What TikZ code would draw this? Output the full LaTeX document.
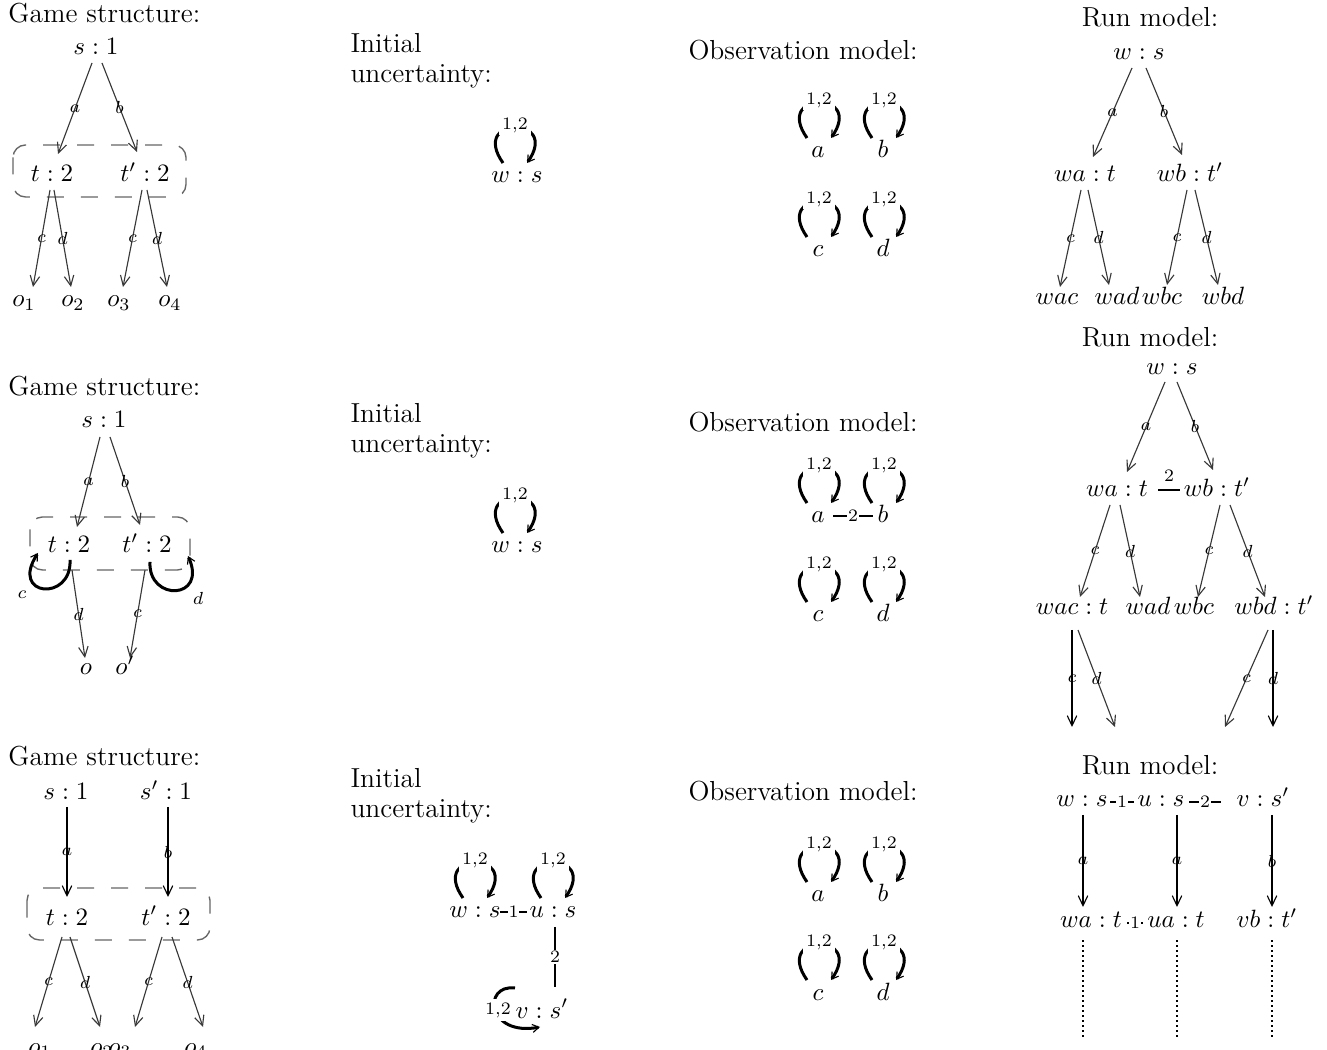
\documentclass[tikz,border=0pt]{standalone}
\usetikzlibrary{arrows.meta,calc}
\newcommand\obsloop[3]{%
  \draw[loopline] ($(#1.base)+(#2-12,-20)$) .. controls ($(#1.base)+(#2-46,-68)$) and ($(#1.base)+(#2+46,-68)$) .. ($(#1.base)+(#2+12,-20)$);
  \node[looplab] (#3) at ($(#1.base)+(#2,-58)$) {1,2};}
\begin{document}
\begin{tikzpicture}[x=0.4pt,y=-0.4pt,
  mn/.style={anchor=base,inner sep=0pt},
  ttl/.style={anchor=base west,inner sep=0pt,font=\fontsize{11}{13}\selectfont},
  ttlc/.style={anchor=base,inner sep=0pt,font=\fontsize{11}{13}\selectfont},
  arr/.style={draw=black!78,line width=0.45pt,-{Straight Barb[length=4pt,width=3.8pt,line width=0.45pt]}},
  varr/.style={arr,draw=black,line width=0.8pt},
  elab/.style={font=\scriptsize,inner sep=0.5pt},
  wlab/.style={font=\scriptsize,inner sep=0.4pt,fill=white},
  eqline/.style={draw=black,line width=0.9pt},
  loopline/.style={draw=black,line width=1.2pt,-{Straight Barb[length=2.6pt,width=3.2pt,line width=0.45pt]}},
  looplab/.style={font=\scriptsize,inner sep=1.2pt,fill=white},
  gbox/.style={draw=black!60,line width=0.55pt,dash pattern=on 6.8pt off 6.8pt,rounded corners=5pt},
  dotl/.style={draw=black,line width=0.9pt,dash pattern=on 0.9pt off 1.1pt},
]
\useasboundingbox (0,0) rectangle (1327,1050);
\fill[white] (0,0) rectangle (1327,1050);
\clip (0,0) rectangle (1327,1050);

% ---------------- Game structure 1
\node[ttl] (g1t) at (8,23) {Game structure:};
\node[mn] (s1) at (96,55) {$s:1$};
\node[mn] (t1) at (52,182) {$t:2$};
\node[mn] (tp1) at (145,182) {$t':2$};
\node[mn] (o1) at (24,307) {$o_1$};
\node[mn] (o2) at (73,307) {$o_2$};
\node[mn] (o3) at (119,307) {$o_3$};
\node[mn] (o4) at (170,307) {$o_4$};
\draw[gbox] (13,145) rectangle (186,197);
\draw[arr] ($(s1.base)+(-4,8)$) -- node[elab] (g1a) {$a$} ($(t1.base)+(6,-28)$);
\draw[arr] ($(s1.base)+(6,8)$) -- node[elab] (g1b) {$b$} ($(tp1.base)+(-8,-30)$);
\draw[arr] ($(t1.base)+(-2,8)$) -- node[elab] (g1c) {$c$} ($(o1.base)+(9,-20)$);
\draw[arr] ($(t1.base)+(2,8)$) -- node[elab] (g1d) {$d$} ($(o2.base)+(-2,-20)$);
\draw[arr] ($(tp1.base)+(-3,8)$) -- node[elab] (g1c2) {$c$} ($(o3.base)+(4,-20)$);
\draw[arr] ($(tp1.base)+(2,8)$) -- node[elab] (g1d2) {$d$} ($(o4.base)+(-3,-20)$);

% ---------------- Game structure 2
\node[ttl] (g2t) at (8,396) {Game structure:};
\node[mn] (s2) at (104,428) {$s:1$};
\node[mn] (t2) at (69,553) {$t:2$};
\node[mn] (tp2) at (147,553) {$t':2$};
\node[mn] (oo) at (86,675) {$o$};
\node[mn] (oop) at (125,675) {$o'$};
\draw[gbox] (30,517) rectangle (190,570);
\draw[arr] ($(s2.base)+(-4,9)$) -- node[elab] (g2a) {$a$} ($(t2.base)+(8,-26)$);
\draw[arr] ($(s2.base)+(6,9)$) -- node[elab] (g2b) {$b$} ($(tp2.base)+(-7,-28)$);
\draw[arr] ($(t2.base)+(3,17)$) -- node[elab] (g2d) {$d$} ($(oo.base)+(-1,-17)$);
\draw[arr] ($(tp2.base)+(-2,17)$) -- node[elab] (g2c) {$c$} ($(oop.base)+(5,-17)$);
\draw[loopline] ($(t2.base)+(1,7)$) .. controls ($(t2.base)+(3,49)$) and ($(t2.base)+(-60,44)$) .. ($(t2.base)+(-31,0)$);
\node[elab] (g2lc) at ($(t2.base)+(-47,42)$) {$c$};
\draw[loopline] ($(tp2.base)+(3,9)$) .. controls ($(tp2.base)+(1,49)$) and ($(tp2.base)+(61,47)$) .. ($(tp2.base)+(41,3)$);
\node[elab] (g2ld) at ($(tp2.base)+(51,45)$) {$d$};

% ---------------- Game structure 3
\node[ttl] (g3t) at (8,766) {Game structure:};
\node[mn] (s3) at (66,800) {$s:1$};
\node[mn] (sp3) at (166,800) {$s':1$};
\node[mn] (t3) at (67,925) {$t:2$};
\node[mn] (tp3) at (166,925) {$t':2$};
\node[mn] (q1) at (40,1054) {$o_1$};
\node[mn] (q2) at (102,1054) {$o_2$};
\node[mn] (q3) at (120,1054) {$o_3$};
\node[mn] (q4) at (196,1054) {$o_4$};
\draw[gbox] (27,888) rectangle (210,940);
\draw[varr] ($(s3.base)+(1,7)$) -- node[elab] (g3a) {$a$} ($(t3.base)+(0,-28)$);
\draw[varr] ($(sp3.base)+(2,7)$) -- node[elab] (g3b) {$b$} ($(tp3.base)+(2,-28)$);
\draw[arr] ($(t3.base)+(-5,12)$) -- node[elab] (g3c) {$c$} ($(q1.base)+(-5,-27)$);
\draw[arr] ($(t3.base)+(3,12)$) -- node[elab] (g3d) {$d$} ($(q2.base)+(-2,-27)$);
\draw[arr] ($(tp3.base)+(-4,12)$) -- node[elab] (g3c2) {$c$} ($(q3.base)+(15,-27)$);
\draw[arr] ($(tp3.base)+(6,12)$) -- node[elab] (g3d2) {$d$} ($(q4.base)+(7,-27)$);

% ---------------- Initial uncertainty
\node[ttl] (i1a) at (350,53) {Initial};
\node[ttl] (i1b) at (350,83) {uncertainty:};
\node[mn] (i1w) at (517,183) {$w:s$};
\obsloop{i1w}{-2}{i1l}

\node[ttl] (i2a) at (350,423) {Initial};
\node[ttl] (i2b) at (350,453) {uncertainty:};
\node[mn] (i2w) at (517,553) {$w:s$};
\obsloop{i2w}{-2}{i2l}

\node[ttl] (i3a) at (350,788) {Initial};
\node[ttl] (i3b) at (350,818) {uncertainty:};
\node[mn] (i3w) at (475,918) {$w:s$};
\node[mn] (i3u) at (553,918) {$u:s$};
\node[mn] (i3v) at (542,1018) {$v:s'$};
\obsloop{i3w}{0}{i3wl}
\obsloop{i3u}{0}{i3ul}
\draw[eqline] ($(i3w.base)+(25,-6)$) -- node[wlab] (i3e1) {1} ($(i3u.base)+(-26,-6)$);
\draw[eqline] ($(i3u.base)+(2,9)$) -- node[wlab] (i3e2) {2} ($(i3v.base)+(13,-31)$);
\draw[loopline] ($(i3v.base)+(-27,-30)$) .. controls ($(i3v.base)+(-60,-34)$) and ($(i3v.base)+(-55,19)$) .. ($(i3v.base)+(-2,9)$);
\node[looplab] (i3vl) at ($(i3v.base)+(-44,-8)$) {1,2};

% ---------------- Observation model
\node[ttl] (ob1t) at (688,60) {Observation model:};
\node[mn] (oa1) at (818,158) {$a$};
\node[mn] (ob1) at (883,158) {$b$};
\node[mn] (oc1) at (818,257) {$c$};
\node[mn] (od1) at (883,257) {$d$};
\obsloop{oa1}{1}{oa1l}
\obsloop{ob1}{1}{ob1l}
\obsloop{oc1}{1}{oc1l}
\obsloop{od1}{1}{od1l}

\node[ttl] (ob2t) at (688,432) {Observation model:};
\node[mn] (oa2) at (818,523) {$a$};
\node[mn] (ob2) at (883,523) {$b$};
\node[mn] (oc2) at (818,622) {$c$};
\node[mn] (od2) at (883,622) {$d$};
\obsloop{oa2}{1}{oa2l}
\obsloop{ob2}{1}{ob2l}
\obsloop{oc2}{1}{oc2l}
\obsloop{od2}{1}{od2l}
\draw[eqline] ($(oa2.base)+(15,-7)$) -- node[wlab] (oab2) {2} ($(ob2.base)+(-10,-7)$);

\node[ttl] (ob3t) at (688,801) {Observation model:};
\node[mn] (oa3) at (818,902) {$a$};
\node[mn] (ob3) at (883,902) {$b$};
\node[mn] (oc3) at (818,1000) {$c$};
\node[mn] (od3) at (883,1000) {$d$};
\obsloop{oa3}{1}{oa3l}
\obsloop{ob3}{1}{ob3l}
\obsloop{oc3}{1}{oc3l}
\obsloop{od3}{1}{od3l}

% ---------------- Run model 1
\node[ttlc] (r1t) at (1150,27) {Run model:};
\node[mn] (r1ws) at (1139,60) {$w:s$};
\node[mn] (r1wa) at (1085,182) {$wa:t$};
\node[mn] (r1wb) at (1190,182) {$wb:t'$};
\node[mn] (r1wac) at (1057,305) {$wac$};
\node[mn] (r1wad) at (1117,305) {$wad$};
\node[mn] (r1wbc) at (1162,305) {$wbc$};
\node[mn] (r1wbd) at (1223,305) {$wbd$};
\draw[arr] ($(r1ws.base)+(-7,8)$) -- node[elab] (r1a) {$a$} ($(r1wa.base)+(8,-25)$);
\draw[arr] ($(r1ws.base)+(7,8)$) -- node[elab] (r1b) {$b$} ($(r1wb.base)+(-8,-27)$);
\draw[arr] ($(r1wa.base)+(-4,8)$) -- node[elab] (r1c) {$c$} ($(r1wac.base)+(3,-18)$);
\draw[arr] ($(r1wa.base)+(3,8)$) -- node[elab] (r1d) {$d$} ($(r1wad.base)+(-8,-20)$);
\draw[arr] ($(r1wb.base)+(-3,8)$) -- node[elab] (r1c2) {$c$} ($(r1wbc.base)+(5,-20)$);
\draw[arr] ($(r1wb.base)+(5,8)$) -- node[elab] (r1d2) {$d$} ($(r1wbd.base)+(-5,-20)$);

% ---------------- Run model 2
\node[ttlc] (r2t) at (1150,347) {Run model:};
\node[mn] (r2ws) at (1172,375) {$w:s$};
\node[mn] (r2wa) at (1117,497) {$wa:t$};
\node[mn] (r2wb) at (1217,497) {$wb:t'$};
\node[mn] (r2wac) at (1072,615) {$wac:t$};
\node[mn] (r2wad) at (1148,615) {$wad$};
\node[mn] (r2wbc) at (1194,615) {$wbc$};
\node[mn] (r2wbd) at (1274,615) {$wbd:t'$};
\coordinate (e1) at (1072,727);
\coordinate (e2) at (1115,727);
\coordinate (e3) at (1225,727);
\coordinate (e4) at (1273,727);
\draw[arr] ($(r2ws.base)+(-7,7)$) -- node[elab] (r2a) {$a$} ($(r2wa.base)+(10,-25)$);
\draw[arr] ($(r2ws.base)+(5,7)$) -- node[elab] (r2b) {$b$} ($(r2wb.base)+(-4,-27)$);
\draw[draw=black,line width=1.1pt] ($(r2wa.base)+(41,-7)$) -- node[elab,above=2.5pt] (r2e) {2} ($(r2wb.base)+(-37,-7)$);
\draw[arr] ($(r2wa.base)+(-7,8)$) -- node[elab] (r2c) {$c$} ($(r2wac.base)+(8,-18)$);
\draw[arr] ($(r2wa.base)+(3,8)$) -- node[elab] (r2d) {$d$} ($(r2wad.base)+(-8,-18)$);
\draw[arr] ($(r2wb.base)+(3,8)$) -- node[elab] (r2c2) {$c$} ($(r2wbc.base)+(4,-18)$);
\draw[arr] ($(r2wb.base)+(13,8)$) -- node[elab] (r2d2) {$d$} ($(r2wbd.base)+(-9,-18)$);
\draw[varr] ($(r2wac.base)+(0,15)$) -- node[elab] (r2c3) {$c$} (e1);
\draw[arr] ($(r2wac.base)+(6,15)$) -- node[elab] (r2d3) {$d$} (e2);
\draw[arr] ($(r2wbd.base)+(-6,15)$) -- node[elab] (r2c4) {$c$} (e3);
\draw[varr] ($(r2wbd.base)+(-1,15)$) -- node[elab] (r2d4) {$d$} (e4);

% ---------------- Run model 3
\node[ttlc] (r3t) at (1150,775) {Run model:};
\node[mn] (r3ws) at (1082,807) {$w:s$};
\node[mn] (r3us) at (1161,807) {$u:s$};
\node[mn] (r3vs) at (1263,807) {$v:s'$};
\node[mn] (r3wa) at (1091,928) {$wa:t$};
\node[mn] (r3ua) at (1176,928) {$ua:t$};
\node[mn] (r3vb) at (1267,928) {$vb:t'$};
\coordinate (f1) at (1083,1038);
\coordinate (f2) at (1177,1038);
\coordinate (f3) at (1272,1038);
\draw[eqline] ($(r3ws.base)+(28,-5)$) -- node[wlab] (r3e1) {1} ($(r3us.base)+(-27,-5)$);
\draw[eqline] ($(r3us.base)+(28,-5)$) -- node[wlab] (r3e2) {2} ($(r3vs.base)+(-42,-5)$);
\draw[eqline] ($(r3wa.base)+(36,-5)$) -- node[wlab] (r3e3) {1} ($(r3ua.base)+(-33,-5)$);
\draw[varr] ($(r3ws.base)+(1,8)$) -- node[elab] (r3a) {$a$} ($(r3wa.base)+(-8,-21)$);
\draw[varr] ($(r3us.base)+(16,8)$) -- node[elab] (r3a2) {$a$} ($(r3ua.base)+(1,-21)$);
\draw[varr] ($(r3vs.base)+(9,8)$) -- node[elab] (r3b) {$b$} ($(r3vb.base)+(5,-21)$);
\draw[dotl] ($(r3wa.base)+(-8,12)$) -- (f1);
\draw[dotl] ($(r3ua.base)+(1,12)$) -- (f2);
\draw[dotl] ($(r3vb.base)+(5,12)$) -- (f3);
\end{tikzpicture}
\end{document}
